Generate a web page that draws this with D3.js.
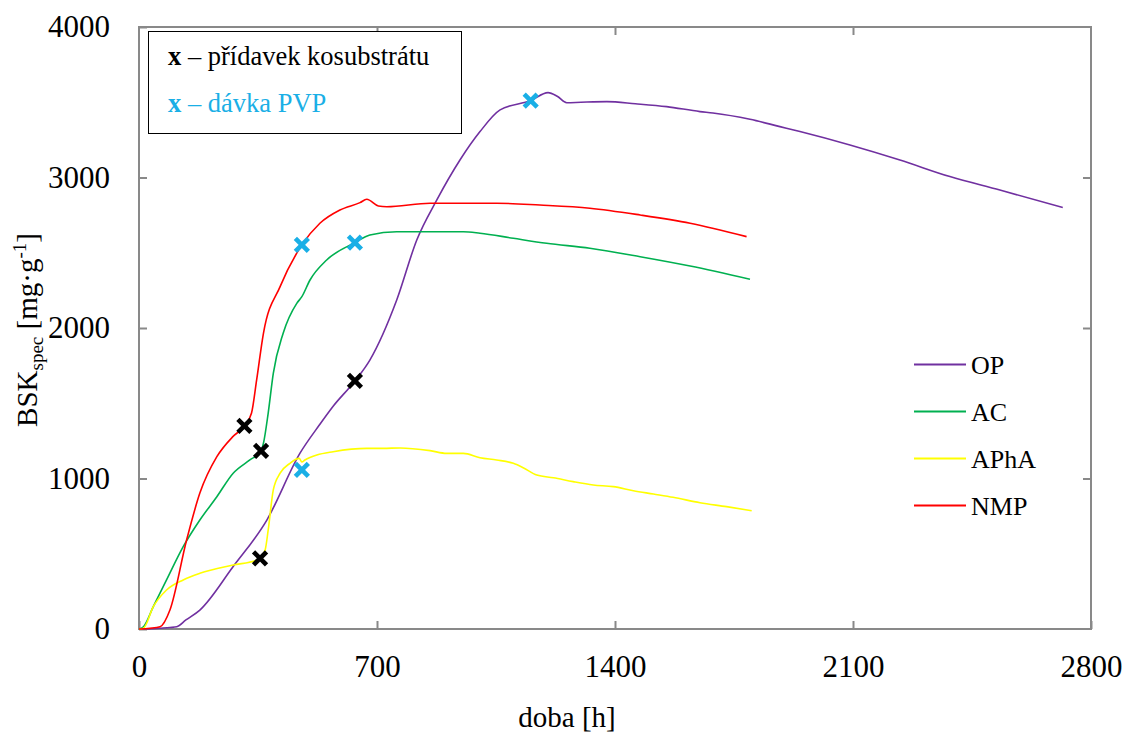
<!DOCTYPE html>
<html>
<head>
<meta charset="utf-8">
<script src="https://cdn.jsdelivr.net/npm/d3@7"></script>
<style>
  html, body { margin: 0; padding: 0; background: #fff; }
  svg { display: block; font-family: "Liberation Serif", "Times New Roman", serif; }
</style>
</head>
<body>
<svg id="chart" width="1127" height="735"></svg>
<script>
// Time axis (hours) and specific biogas yield BSK_spec (mg·g-1)
const xTicks = [0, 700, 1400, 2100, 2800];
const yTicks = [0, 1000, 2000, 3000, 4000];

const opHours = [0, 30, 60, 91, 111, 138, 179, 276, 376, 474, 532, 571, 635, 679, 758, 817, 876, 944, 1003, 1062, 1152, 1203, 1230, 1258, 1300, 1376, 1460, 1552, 1650, 1688, 1797, 1885, 1944, 2091, 2238, 2385, 2532, 2717];
const opBsk   = [0, 0, 5, 10, 15, 60, 126, 412, 724, 1170, 1360, 1480, 1648, 1787, 2186, 2585, 2851, 3116, 3305, 3449, 3511, 3564, 3540, 3497, 3500, 3504, 3490, 3471, 3438, 3429, 3387, 3338, 3305, 3216, 3116, 3006, 2917, 2800];

const acHours = [0, 13, 42, 81, 130, 179, 229, 277, 326, 359, 366, 380, 395, 424, 464, 479, 503, 552, 635, 679, 758, 856, 954, 1003, 1101, 1199, 1326, 1474, 1621, 1797];
const acBsk   = [0, 15, 148, 326, 547, 724, 879, 1035, 1123, 1183, 1234, 1435, 1699, 1965, 2164, 2208, 2319, 2452, 2567, 2618, 2640, 2640, 2640, 2630, 2596, 2563, 2530, 2474, 2412, 2324];

const aphaHours = [0, 13, 42, 81, 130, 179, 277, 346, 356, 371, 380, 395, 415, 444, 471, 479, 488, 523, 571, 670, 718, 768, 856, 905, 954, 1003, 1052, 1101, 1130, 1170, 1219, 1277, 1336, 1395, 1454, 1513, 1571, 1650, 1728, 1802];
const aphaBsk   = [0, 5, 148, 259, 326, 370, 425, 458, 470, 525, 658, 924, 1035, 1101, 1134, 1110, 1123, 1156, 1178, 1200, 1200, 1203, 1185, 1167, 1167, 1138, 1123, 1101, 1072, 1023, 1005, 979, 957, 946, 919, 897, 875, 839, 813, 786];

const nmpHours = [0, 32, 62, 91, 140, 179, 229, 276, 310, 331, 346, 366, 415, 479, 532, 591, 650, 670, 704, 729, 856, 1052, 1179, 1326, 1474, 1621, 1787];
const nmpBsk   = [0, 5, 15, 126, 591, 903, 1145, 1278, 1349, 1435, 1655, 1965, 2275, 2552, 2696, 2784, 2833, 2855, 2811, 2806, 2829, 2829, 2817, 2796, 2751, 2696, 2607];

const seriesNames  = ["OP", "AC", "APhA", "NMP"];
const seriesColors = ["#7030A0", "#00B050", "#FFFF00", "#FF0000"];

// Co-substrate additions (black) and PVP doses (blue)
const cosubstrateHours = [310, 359, 356, 635];
const cosubstrateBsk   = [1349, 1183, 470, 1648];
const pvpHours = [479, 635, 479, 1152];
const pvpBsk   = [2552, 2567, 1057, 3511];

const svg = d3.select("#chart");
const plotLeft = 139, plotRight = 1091, plotTop = 27, plotBottom = 629;

const x = d3.scaleLinear().domain([0, 2800]).range([plotLeft, plotRight]);
const y = d3.scaleLinear().domain([0, 4000]).range([plotBottom, plotTop]);

const frameColor = "#898989";
const fmt = d3.format("d");

// Axes: ticks point into the plot area
const yAxis = svg.append("g")
  .attr("transform", `translate(${plotLeft},0)`)
  .call(d3.axisLeft(y).tickValues(yTicks).tickFormat(fmt).tickSize(-8).tickSizeOuter(0).tickPadding(29));
const xAxis = svg.append("g")
  .attr("transform", `translate(0,${plotBottom})`)
  .call(d3.axisBottom(x).tickValues(xTicks).tickFormat(fmt).tickSize(-8).tickSizeOuter(0).tickPadding(26));
const xTop = svg.append("g")
  .attr("transform", `translate(0,${plotTop})`)
  .call(d3.axisTop(x).tickValues(xTicks.slice(1, -1)).tickSize(-8).tickSizeOuter(0).tickFormat(""));
const yRight = svg.append("g")
  .attr("transform", `translate(${plotRight},0)`)
  .call(d3.axisRight(y).tickValues(yTicks.slice(1, -1)).tickSize(-8).tickSizeOuter(0).tickFormat(""));

[yAxis, xAxis, xTop, yRight].forEach(g => {
  g.select(".domain").remove();
  g.selectAll(".tick line").attr("stroke", frameColor).attr("stroke-width", 2);
  g.selectAll(".tick text").attr("fill", "#000").attr("font-size", 31)
    .attr("font-family", "Liberation Serif, Times New Roman, serif");
});

svg.append("rect")
  .attr("x", plotLeft).attr("y", plotTop)
  .attr("width", plotRight - plotLeft).attr("height", plotBottom - plotTop)
  .attr("fill", "none").attr("stroke", frameColor).attr("stroke-width", 2);

// Series lines
const seriesData = [
  [opHours, opBsk],
  [acHours, acBsk],
  [aphaHours, aphaBsk],
  [nmpHours, nmpBsk]
];
const line = d3.line().x(d => x(d[0])).y(d => y(d[1])).curve(d3.curveMonotoneX);

seriesData.forEach(([hs, vs], i) => {
  svg.append("path")
    .datum(hs.map((h, k) => [h, vs[k]]))
    .attr("d", line)
    .attr("fill", "none")
    .attr("stroke", seriesColors[i])
    .attr("stroke-width", 1.6);
});

// X markers
function drawMarks(hours, values, color) {
  svg.append("g").selectAll("path")
    .data(hours.map((h, k) => [h, values[k]]))
    .join("path")
    .attr("transform", d => `translate(${x(d[0])},${y(d[1])})`)
    .attr("d", "M-6.5,-6.5L6.5,6.5M-6.5,6.5L6.5,-6.5")
    .attr("stroke", color)
    .attr("stroke-width", 4.6)
    .attr("fill", "none");
}
drawMarks(cosubstrateHours, cosubstrateBsk, "#000");
drawMarks(pvpHours, pvpBsk, "#1AAFE6");

// Marker legend box
const lg = svg.append("g");
lg.append("rect").attr("x", 148.5).attr("y", 31.5).attr("width", 313).attr("height", 102)
  .attr("fill", "#fff").attr("stroke", "#000").attr("stroke-width", 1);
const t1 = lg.append("text").attr("x", 168).attr("y", 65).attr("font-size", 26.5).attr("fill", "#000");
t1.append("tspan").attr("font-weight", "bold").text("x");
t1.append("tspan").text(" – přídavek kosubstrátu");
const t2 = lg.append("text").attr("x", 168).attr("y", 112).attr("font-size", 26.5).attr("fill", "#1AAFE6");
t2.append("tspan").attr("font-weight", "bold").text("x");
t2.append("tspan").text(" – dávka PVP");

// Series legend
const sl = svg.append("g");
seriesNames.forEach((name, i) => {
  const yy = 364.5 + i * 47;
  sl.append("line").attr("x1", 914).attr("x2", 966).attr("y1", yy).attr("y2", yy)
    .attr("stroke", seriesColors[i]).attr("stroke-width", 2);
  sl.append("text").attr("x", 971).attr("y", yy + 9).attr("font-size", 26).attr("fill", "#000").text(name);
});

// Axis titles
svg.append("text").attr("x", 567).attr("y", 727)
  .attr("text-anchor", "middle").attr("font-size", 29).text("doba [h]");

const yt = svg.append("text")
  .attr("transform", "translate(37,330) rotate(-90)")
  .attr("text-anchor", "middle").attr("font-size", 29);
yt.append("tspan").text("BSK");
yt.append("tspan").attr("font-size", 19).attr("dy", 6).text("spec");
yt.append("tspan").attr("dy", -6).text(" [mg·g");
yt.append("tspan").attr("font-size", 19).attr("dy", -11).text("-1");
yt.append("tspan").attr("dy", 11).text("]");
</script>
</body>
</html>
